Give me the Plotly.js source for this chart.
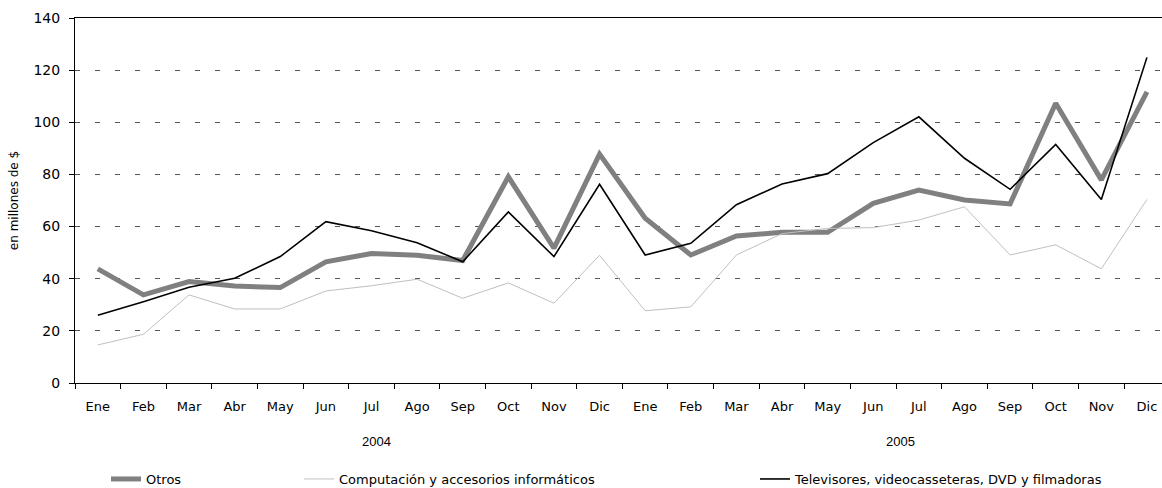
<!DOCTYPE html>
<html>
<head>
<meta charset="utf-8">
<script src="https://cdn.plot.ly/plotly-3.0.1.min.js"></script>
<style>
  html, body { margin: 0; padding: 0; background: #fff; }
  #chart { width: 1162px; height: 488px; }
</style>
</head>
<body>
<div id="chart"></div>
<script>
// Month tick labels (two years)
const months = ['Ene','Feb','Mar','Abr','May','Jun','Jul','Ago','Sep','Oct','Nov','Dic',
                'Ene','Feb','Mar','Abr','May','Jun','Jul','Ago','Sep','Oct','Nov','Dic'];
const years = ['2004', '2005'];
const yearLabelPos = [6.1, 17.6];

// Series (millones de $)
const otros = [43.8, 33.8, 38.9, 37.2, 36.6, 46.5, 49.7, 49.0, 47.0, 79.1, 51.7, 87.8,
               63.2, 49.1, 56.4, 57.8, 57.8, 68.9, 74.0, 70.2, 68.7, 107.3, 77.9, 111.7];
const computacion = [14.6, 18.7, 33.8, 28.4, 28.4, 35.3, 37.3, 39.8, 32.5, 38.4, 30.6, 49.0,
                     27.7, 29.2, 49.1, 57.3, 59.3, 59.6, 62.5, 67.6, 49.1, 53.0, 43.8, 70.4];
const televisores = [26.0, 31.2, 36.7, 40.2, 48.5, 61.9, 58.4, 53.8, 46.5, 65.6, 48.5, 76.2,
                     49.1, 53.6, 68.4, 76.3, 80.3, 92.2, 102.1, 86.2, 74.3, 91.5, 70.4, 124.9];

const names = ['Otros', 'Computación y accesorios informáticos', 'Televisores, videocasseteras, DVD y filmadoras'];

const idx = months.map((m, i) => i);
const bounds = months.map((m, i) => i - 0.5).concat([months.length - 0.5]);

const fontFam = '"DejaVu Sans", "Liberation Sans", sans-serif';

const traces = [
  { x: idx, y: otros, name: names[0], type: 'scatter', mode: 'lines',
    line: { color: '#808080', width: 5 }, legend: 'legend' },
  { x: idx, y: computacion, name: names[1], type: 'scatter', mode: 'lines',
    line: { color: '#c0c0c0', width: 1 }, legend: 'legend2' },
  { x: idx, y: televisores, name: names[2], type: 'scatter', mode: 'lines',
    line: { color: '#000000', width: 1.6 }, legend: 'legend3' }
];

const legendBase = {
  orientation: 'h', xref: 'container', yref: 'container',
  xanchor: 'left', yanchor: 'middle', y: 1 - 479 / 488,
  font: { family: fontFam, size: 13, color: '#000' },
  bgcolor: 'rgba(0,0,0,0)', borderwidth: 0
};

const layout = {
  width: 1162, height: 488,
  margin: { l: 75, r: 0, t: 18, b: 105 },
  paper_bgcolor: '#fff', plot_bgcolor: '#fff',
  font: { family: fontFam, size: 13, color: '#000' },
  showlegend: true,
  legend: Object.assign({}, legendBase, { x: 106 / 1162 }),
  legend2: Object.assign({}, legendBase, { x: 299 / 1162 }),
  legend3: Object.assign({}, legendBase, { x: 755 / 1162 }),
  xaxis: {
    type: 'linear',
    range: [-0.5, 23.33],
    tickvals: idx, ticktext: months,
    ticks: 'outside', ticklen: 5, tickcolor: 'rgba(0,0,0,0)',
    ticklabelstandoff: 6,
    showgrid: false, zeroline: false,
    showline: true, linecolor: '#000', linewidth: 1, mirror: true,
    minor: { tickvals: bounds, ticks: 'outside', ticklen: 5, tickcolor: '#000', tickwidth: 1, showgrid: false },
    tickfont: { family: fontFam, size: 13, color: '#000' },
    fixedrange: true
  },
  yaxis: {
    range: [0, 140], dtick: 20, tick0: 0,
    ticks: 'outside', ticklen: 5, tickcolor: '#000',
    ticklabelstandoff: 6,
    showline: true, linecolor: '#000', linewidth: 1,
    showgrid: true, gridcolor: '#555', gridwidth: 1, griddash: '5px,15px',
    zeroline: false,
    tickfont: { family: fontFam, size: 14, color: '#000' },
    title: { text: 'en millones de $', font: { family: fontFam, size: 12, color: '#000' }, standoff: 12 },
    fixedrange: true
  },
  annotations: years.map((yr, i) => ({
    text: yr, xref: 'x', yref: 'paper', x: yearLabelPos[i], y: -58 / 365,
    showarrow: false, xanchor: 'center', yanchor: 'middle',
    font: { family: '"Liberation Sans Narrow", "Liberation Sans", sans-serif', size: 13, color: '#000' }
  }))
};

Plotly.newPlot('chart', traces, layout, { displayModeBar: false, staticPlot: true });
</script>
</body>
</html>
